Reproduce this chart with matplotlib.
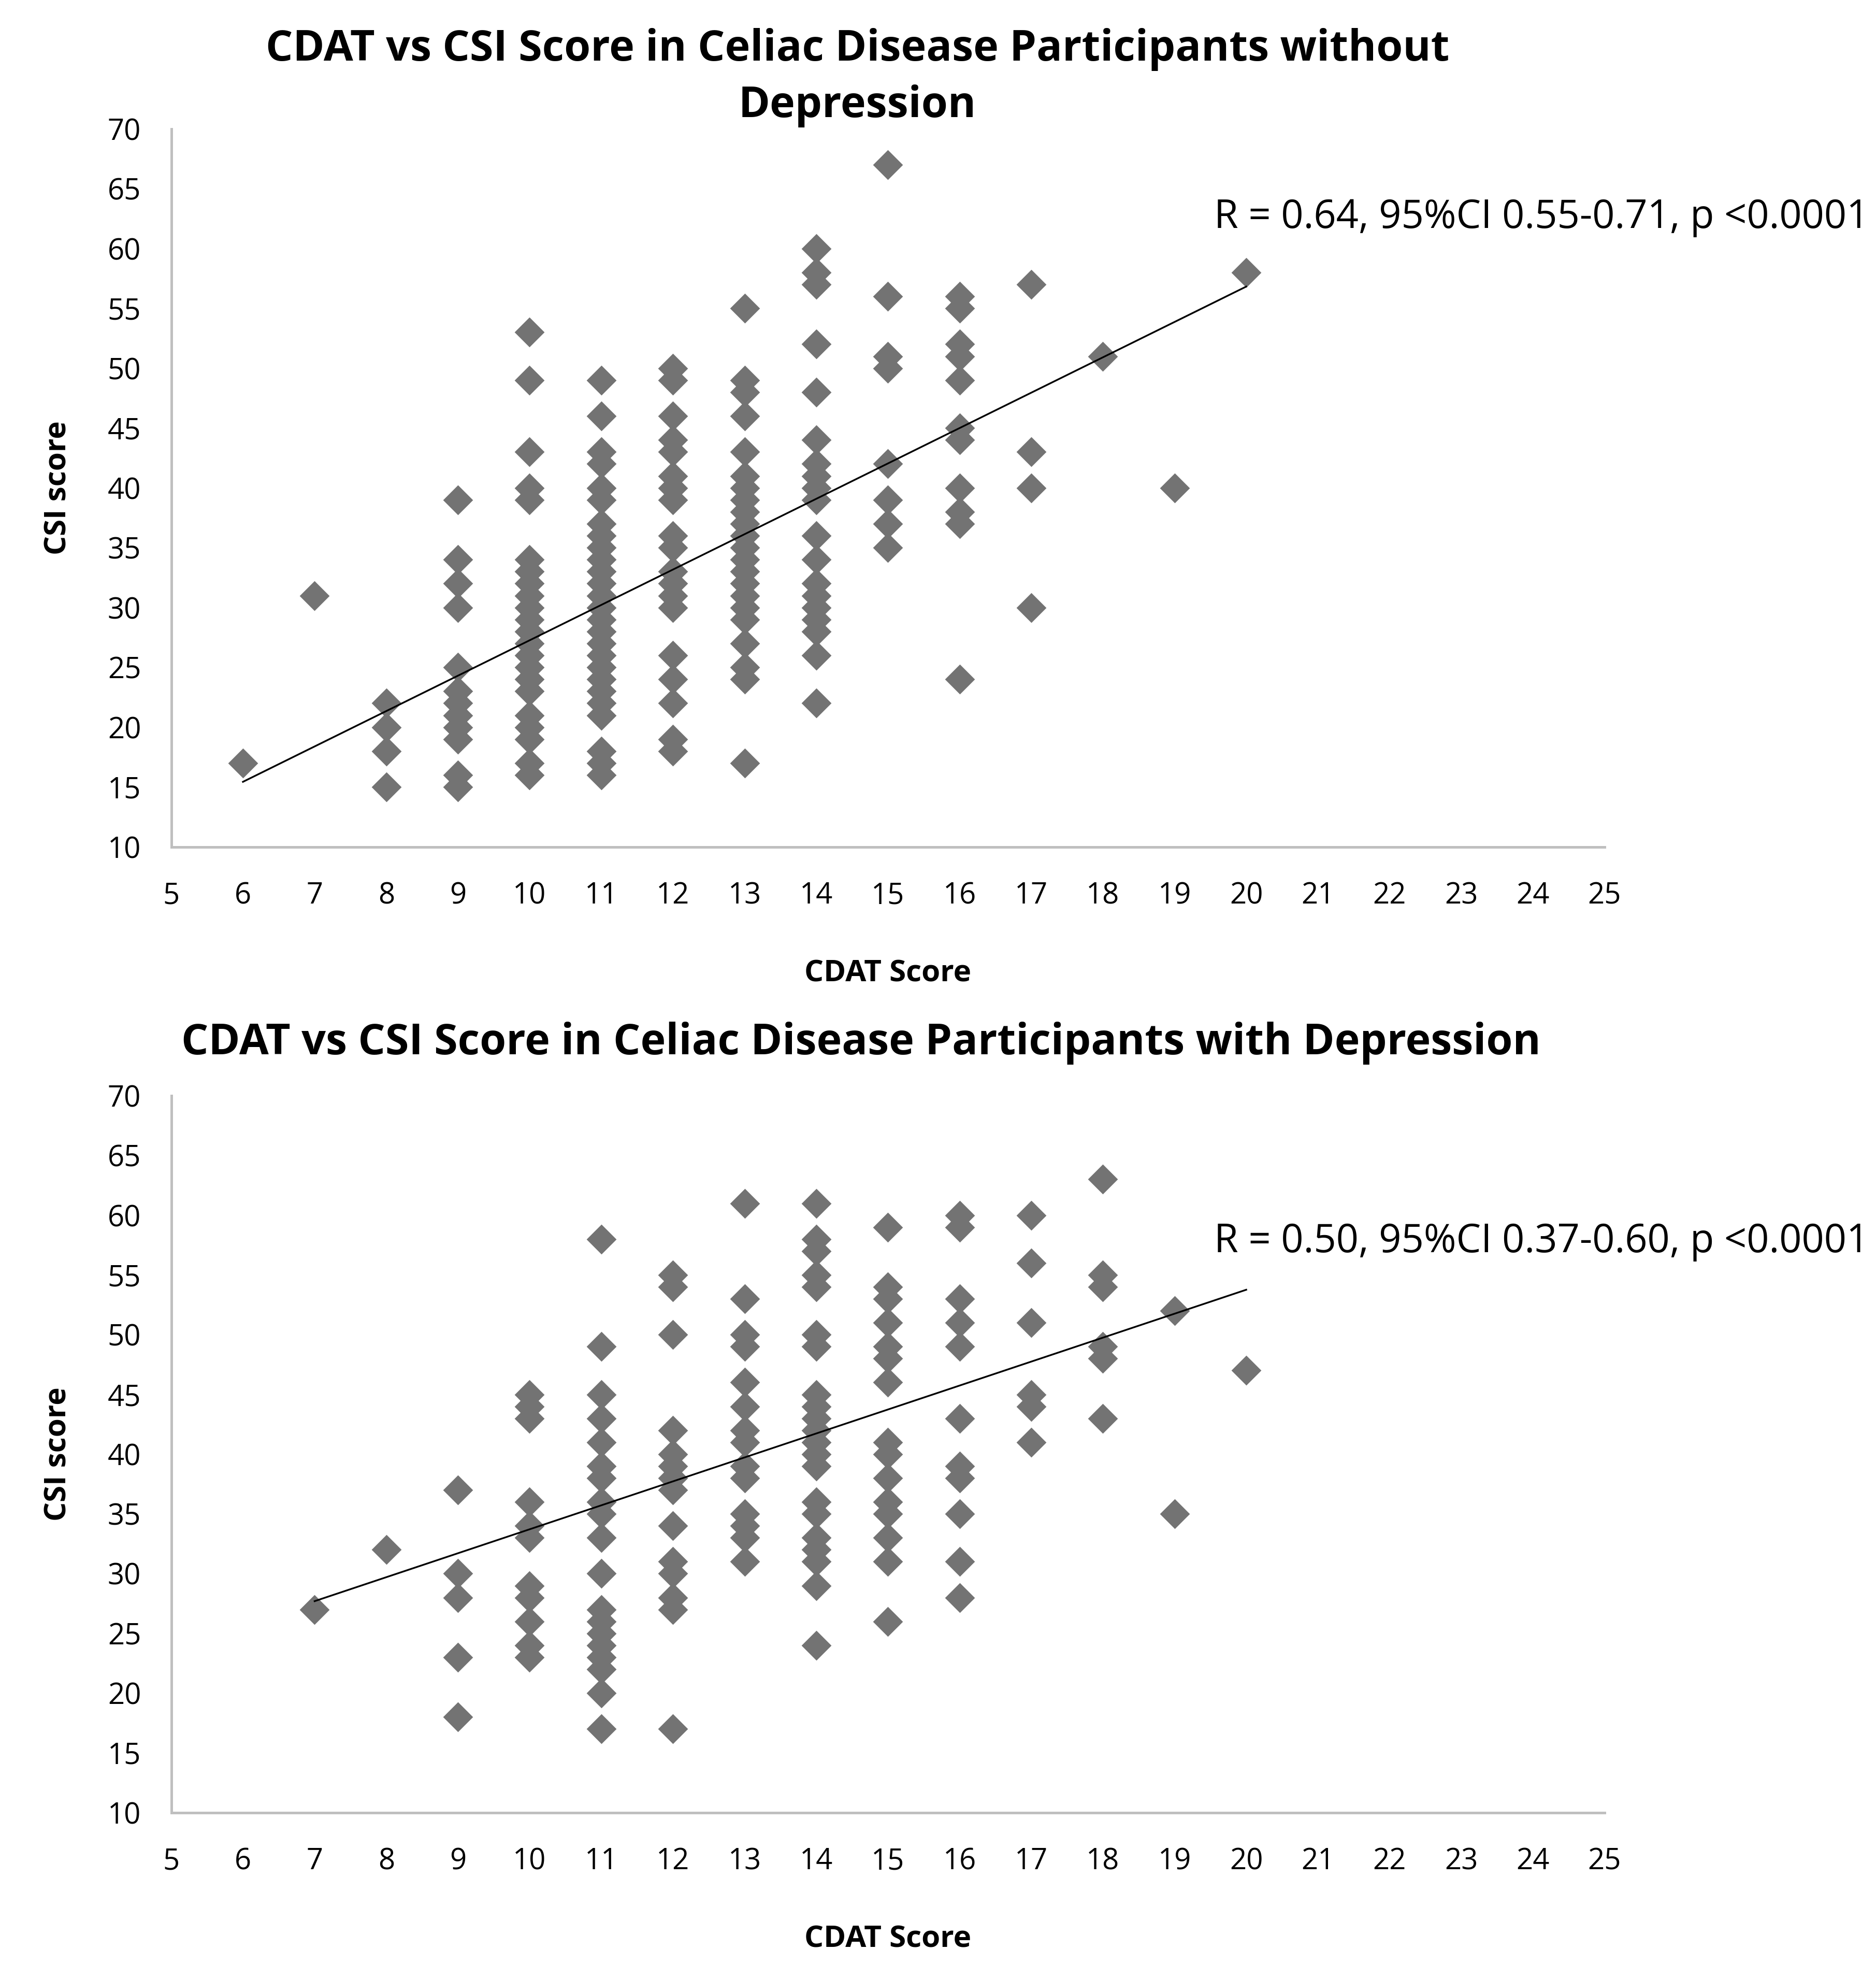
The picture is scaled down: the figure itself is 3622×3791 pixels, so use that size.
import matplotlib.pyplot as plt
import numpy as np

plt.rcParams['font.family'] = ['Open Sans', 'DejaVu Sans']

# CDAT score levels and CSI scores read at each level
cdat_nodep = [6, 7, 8, 9, 10, 11, 12, 13, 14, 15, 16, 17, 18, 19, 20]
csi_nodep = [
    [17],
    [31],
    [22, 20, 18, 15],
    [39, 34, 32, 30, 25, 23, 22, 21, 20, 19, 16, 15],
    [53, 49, 43, 40, 39, 34, 33, 32, 31, 30, 29, 28, 27, 26, 25, 24, 23, 21, 20, 19, 17, 16],
    [49, 46, 43, 42, 40, 39, 37, 36, 35, 34, 33, 32, 31, 30, 29, 28, 27, 26, 25, 24, 23, 22, 21, 18, 17, 16],
    [50, 49, 46, 44, 43, 41, 40, 39, 36, 35, 33, 32, 31, 30, 26, 24, 22, 19, 18],
    [55, 49, 48, 46, 43, 41, 40, 39, 38, 37, 36, 35, 34, 33, 32, 31, 30, 29, 27, 25, 24, 17],
    [60, 58, 57, 52, 48, 44, 42, 41, 40, 39, 36, 34, 32, 31, 30, 29, 28, 26, 22],
    [67, 56, 51, 50, 42, 39, 37, 35],
    [56, 55, 52, 51, 49, 45, 44, 40, 38, 37, 24],
    [57, 43, 40, 30],
    [51],
    [40],
    [58],
]

cdat_dep = [7, 8, 9, 10, 11, 12, 13, 14, 15, 16, 17, 18, 19, 20]
csi_dep = [
    [27],
    [32],
    [37, 30, 28, 23, 18],
    [45, 44, 43, 36, 34, 33, 29, 28, 26, 24, 23],
    [58, 49, 45, 43, 41, 39, 38, 36, 35, 33, 30, 27, 26, 25, 24, 23, 22, 20, 17],
    [55, 54, 50, 42, 40, 39, 38, 37, 34, 31, 30, 28, 27, 17],
    [61, 53, 50, 49, 46, 44, 42, 41, 39, 38, 35, 34, 33, 31],
    [61, 58, 57, 55, 54, 50, 49, 45, 44, 43, 42, 41, 40, 39, 36, 35, 33, 32, 31, 29, 24],
    [59, 54, 53, 51, 49, 48, 46, 41, 40, 38, 36, 35, 33, 31, 26],
    [60, 59, 53, 51, 49, 43, 39, 38, 35, 31, 28],
    [60, 56, 51, 45, 44, 41],
    [63, 55, 54, 49, 48, 43],
    [52, 35],
    [47],
]

# linear trendlines (slope, intercept) as shown on the original chart
trend_nodep = (2.956, -2.30)
trend_dep = (2.005, 13.66)

titles = ["CDAT vs CSI Score in Celiac Disease Participants without\nDepression",
          "CDAT vs CSI Score in Celiac Disease Participants with Depression"]
stats = ["R = 0.64, 95%CI 0.55-0.71, p <0.0001",
         "R = 0.50, 95%CI 0.37-0.60, p <0.0001"]

x_ticks = list(range(5, 26))
y_ticks = list(range(10, 71, 5))


def flatten(levels, values):
    xs, ys = [], []
    for lv, col in zip(levels, values):
        xs += [lv] * len(col)
        ys += col
    return np.array(xs), np.array(ys)


def draw_panel(ax, levels, values, trend, stat, stat_y):
    x, y = flatten(levels, values)
    ax.scatter(x, y, marker='D', s=9.8 ** 2, color='#737373', linewidths=0, zorder=2)
    k, b = trend
    xl = np.array([x.min(), x.max()])
    ax.plot(xl, k * xl + b, color='black', lw=0.8, zorder=3)
    ax.set_xlim(5, 25)
    ax.set_ylim(10, 70)
    ax.set_xticks(x_ticks)
    ax.set_yticks(y_ticks)
    for s in ['top', 'right']:
        ax.spines[s].set_visible(False)
    for s in ['left', 'bottom']:
        ax.spines[s].set_color('#BFBFBF')
        ax.spines[s].set_linewidth(1.2)
    ax.tick_params(length=0, labelsize=13.5, pad=14)
    ax.tick_params(axis='x', pad=16)
    ax.set_xlabel("CDAT Score", fontsize=14, fontweight='bold', labelpad=22)
    ax.set_ylabel("CSI score", fontsize=14, fontweight='bold', labelpad=16)
    ax.text(19.55, stat_y, stat, fontsize=18.2, ha='left', va='center', clip_on=False)


fig = plt.figure(figsize=(3622 / 300, 3791 / 300), dpi=300)
ax1 = fig.add_axes([0.0913, 0.5688, 0.764, 0.3656])
ax2 = fig.add_axes([0.0913, 0.0771, 0.764, 0.3650])

draw_panel(ax1, cdat_nodep, csi_nodep, trend_nodep, stats[0], 62.6)
draw_panel(ax2, cdat_dep, csi_dep, trend_dep, stats[1], 57.8)

fig.text(0.457, 0.9605, titles[0], ha='center', va='center', fontsize=19.8,
         fontweight='bold', linespacing=1.42)
fig.text(0.459, 0.4688, titles[1], ha='center', va='center', fontsize=19.8,
         fontweight='bold')

fig.savefig("out.png", dpi=300, facecolor='white')
